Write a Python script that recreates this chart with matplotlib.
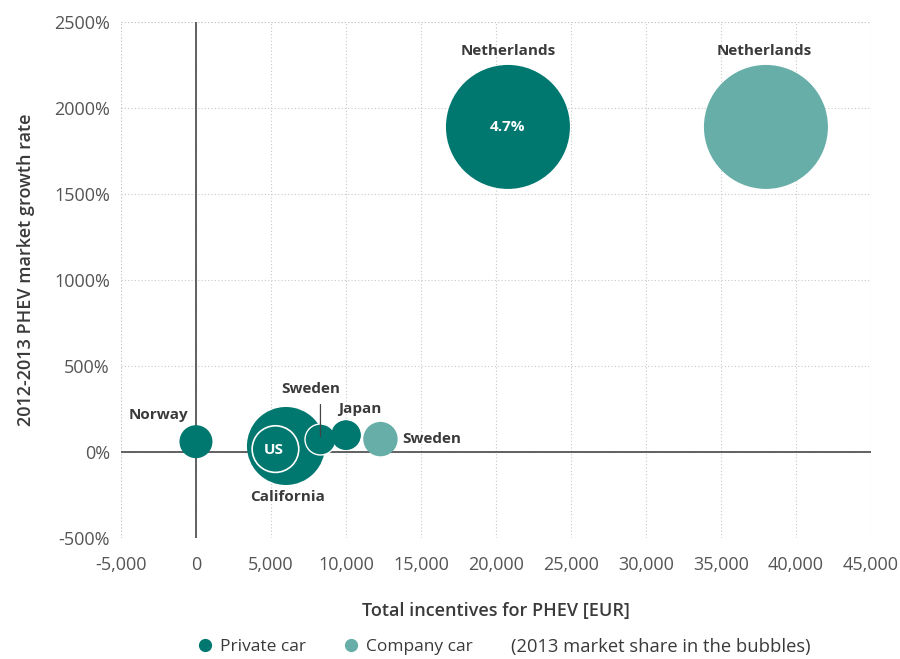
import numpy as np
import matplotlib
matplotlib.use('Agg')
from matplotlib import pyplot as plt
from matplotlib.lines import Line2D

plt.rcParams['font.family'] = ['Open Sans', 'DejaVu Sans']

# bubble data (incentive in EUR, 2012-2013 growth in %)
names = ['Norway', 'California', 'Sweden', 'Japan', 'Sweden', 'Netherlands', 'Netherlands']
incentive = [0, 6000, 8300, 10000, 12300, 20800, 38000]
growth = [60, 35, 74, 98, 75, 1890, 1890]
bubble_radius = [16.5, 39, 15.5, 14.7, 17.2, 62, 62]
car_type = ['private', 'private', 'private', 'private', 'company', 'private', 'company']

# inner US ring inside the California bubble
us_incentive = 5300
us_growth = 17
us_radius = 23.3

x_ticks = np.arange(-5000, 45001, 5000)
y_ticks = np.arange(-500, 2501, 500)

dark = '#00776f'
light = '#66aea7'
colors = {'private': dark, 'company': light}
text_col = '#3a3a3a'
tick_col = '#555555'
grid_col = '#c8c8c8'

dpi = 100
fig = plt.figure(figsize=(9, 6.59), dpi=dpi)
ax = fig.add_axes([0.1344, 0.1836, 0.8333, 0.783])


def area(r_px):
    # marker area in points^2 from a radius given in pixels
    return (2 * r_px * 72 / dpi) ** 2


ax.set_xlim(-5000, 45000)
ax.set_ylim(-500, 2500)
ax.set_xticks(x_ticks)
ax.set_yticks(y_ticks)
ax.set_xticklabels([f'{v:,}' for v in x_ticks])
ax.set_yticklabels([f'{v}%' for v in y_ticks])
ax.tick_params(length=0, labelsize=13, labelcolor=tick_col)
ax.tick_params(axis='y', pad=8)
ax.tick_params(axis='x', pad=13)
for s in ax.spines.values():
    s.set_visible(False)
ax.grid(True, linestyle=(0, (1, 2)), color=grid_col, linewidth=0.8, zorder=0)
for v in [-5000, 45000]:
    ax.axvline(v, linestyle=(0, (1, 2)), color=grid_col, linewidth=0.8, zorder=0)
ax.axhline(2500, linestyle=(0, (1, 2)), color=grid_col, linewidth=0.8, zorder=0)
ax.axhline(0, color='#555555', linewidth=1.3, zorder=2)
ax.axvline(0, color='#555555', linewidth=1.3, zorder=2)

for x, y, r, t in zip(incentive, growth, bubble_radius, car_type):
    ax.scatter(x, y, s=area(r), color=colors[t], edgecolors='none', zorder=3)
ax.scatter(us_incentive, us_growth, s=area(us_radius), facecolors='none',
           edgecolors='white', linewidths=1.2, zorder=4)
# white edge on the small Sweden bubble where it overlaps California
ax.scatter(incentive[2], growth[2], s=area(bubble_radius[2]), color=dark,
           edgecolors='white', linewidths=1.0, zorder=4)
ax.scatter(incentive[3], growth[3], s=area(bubble_radius[3]), color=dark,
           edgecolors='none', zorder=5)

# labels (offsets in points)
label_kw = dict(textcoords='offset points', fontsize=11, fontweight='bold',
                color=text_col, va='center')
offsets = [(-27, 19, 'center'), (1, -37, 'center'), (-7, 36, 'center'),
           (10, 19, 'center'), (16, 0, 'left'), (0, 55, 'center'), (-1, 55, 'center')]
for n, x, y, (dx, dy, ha) in zip(names, incentive, growth, offsets):
    ax.annotate(n, (x, y), xytext=(dx, dy), ha=ha, zorder=6, **label_kw)
# leader line for the private Sweden label
ax.annotate('', (incentive[2], growth[2]), xytext=(0, 27), textcoords='offset points',
            arrowprops=dict(arrowstyle='-', color='#444444', lw=0.9), zorder=6)
ax.annotate('US', (us_incentive, us_growth), xytext=(-1, -1), textcoords='offset points',
            ha='center', va='center', fontsize=11, fontweight='bold', color='white', zorder=6)
ax.annotate('4.7%', (incentive[5], growth[5]), xytext=(0, 0), textcoords='offset points',
            ha='center', va='center', fontsize=11, fontweight='bold', color='white', zorder=6)

ax.set_xlabel('Total incentives for PHEV [EUR]', fontsize=13, color=text_col,
              fontweight='semibold', labelpad=20)
ax.set_ylabel('2012-2013 PHEV market growth rate', fontsize=13, color=text_col,
              fontweight='semibold')
ax.yaxis.set_label_coords(-0.115, 0.52)

handles = [Line2D([], [], marker='o', linestyle='none', color=dark, markersize=8.5),
           Line2D([], [], marker='o', linestyle='none', color=light, markersize=8.5)]
leg = fig.legend(handles, ['Private car', 'Company car'], loc='center left',
                 bbox_to_anchor=(0.218, 0.018), ncol=2, frameon=False, fontsize=12.5,
                 handletextpad=0.35, columnspacing=2.1, handlelength=1.0, borderpad=0,
                 borderaxespad=0)
for t in leg.get_texts():
    t.set_color(text_col)
fig.text(0.568, 0.018, '(2013 market share in the bubbles)', fontsize=13.2,
         color=text_col, ha='left', va='center')

fig.savefig('out.png', dpi=dpi)
